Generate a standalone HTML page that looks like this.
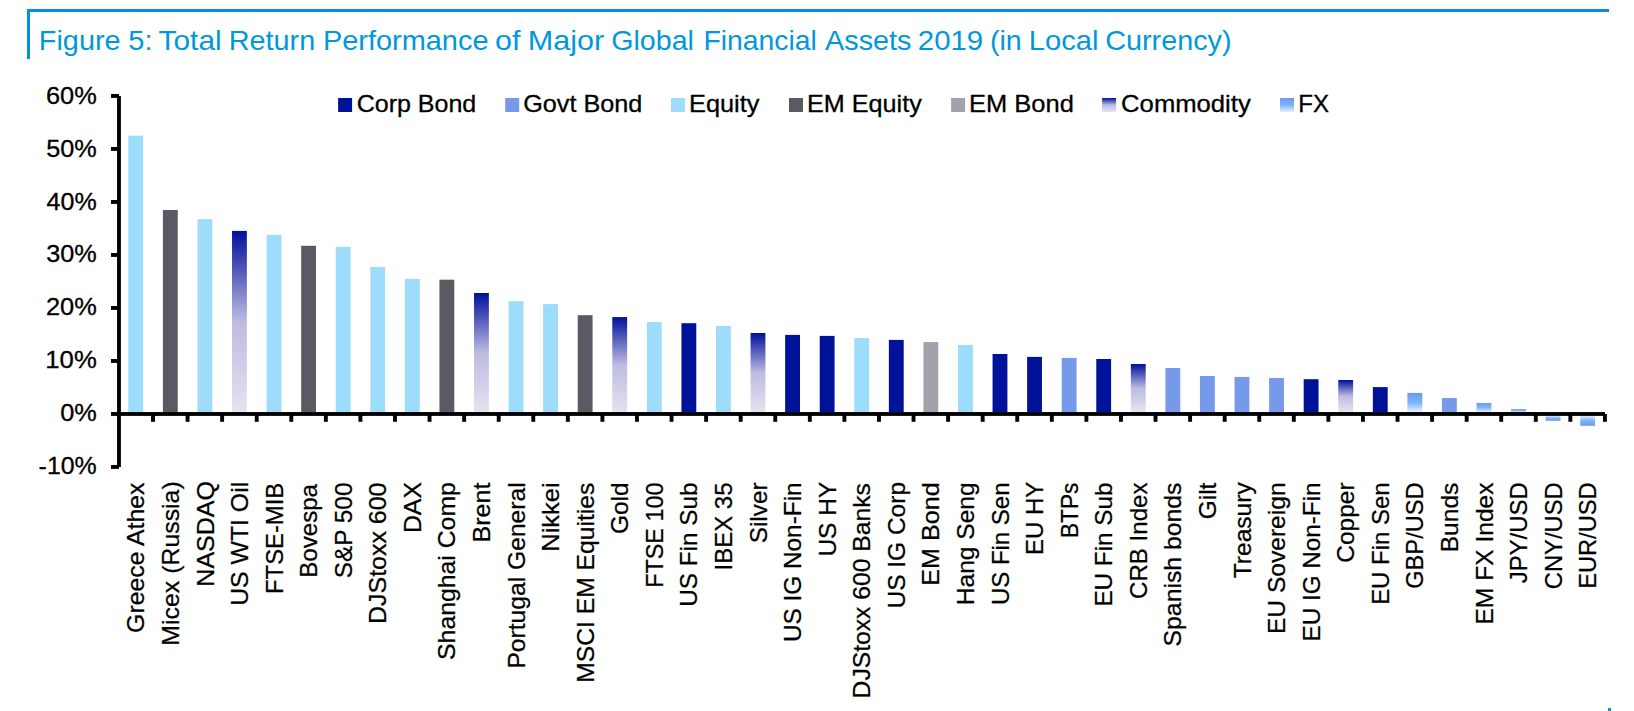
<!DOCTYPE html>
<html lang="en"><head><meta charset="utf-8"><title>Figure 5: Total Return Performance of Major Global Financial Assets 2019</title>
<style>
html,body{margin:0;padding:0;background:#fff;}
body{width:1634px;height:711px;overflow:hidden;}
svg{display:block;}
text{font-family:"Liberation Sans",sans-serif;}
</style></head><body>
<svg width="1634" height="711" viewBox="0 0 1634 711">
<defs>
<linearGradient id="gc" x1="0" y1="0" x2="0" y2="1"><stop offset="0" stop-color="#000F9B"/><stop offset="0.5" stop-color="#BDBBE0"/><stop offset="1" stop-color="#E4E3F1"/></linearGradient>
<linearGradient id="gf" x1="0" y1="0" x2="0" y2="1"><stop offset="0" stop-color="#7396EA"/><stop offset="0.5" stop-color="#74B8FF"/><stop offset="1" stop-color="#F3ECF8"/></linearGradient>
<linearGradient id="gfn" x1="0" y1="1" x2="0" y2="0"><stop offset="0" stop-color="#7396EA"/><stop offset="0.5" stop-color="#74B8FF"/><stop offset="1" stop-color="#F3ECF8"/></linearGradient>
</defs>
<rect width="1634" height="711" fill="#fff"/>

<rect x="27" y="9" width="1582" height="3" fill="#0093DA"/>
<rect x="27" y="9" width="3" height="50" fill="#0093DA"/>
<rect x="1608" y="708" width="3" height="3" fill="#0093DA"/>
<text y="49.5" font-size="28.0" fill="#0098DC"><tspan x="38.82" textLength="81.77" lengthAdjust="spacingAndGlyphs">Figure</tspan> <tspan x="128.34" textLength="24.22" lengthAdjust="spacingAndGlyphs">5:</tspan> <tspan x="158.63" textLength="62.98" lengthAdjust="spacingAndGlyphs">Total</tspan> <tspan x="228.72" textLength="86.52" lengthAdjust="spacingAndGlyphs">Return</tspan> <tspan x="322.91" textLength="165.58" lengthAdjust="spacingAndGlyphs">Performance</tspan> <tspan x="495.11" textLength="25.36" lengthAdjust="spacingAndGlyphs">of</tspan> <tspan x="527.78" textLength="76.50" lengthAdjust="spacingAndGlyphs">Major</tspan> <tspan x="611.27" textLength="82.68" lengthAdjust="spacingAndGlyphs">Global</tspan> <tspan x="703.46" textLength="113.44" lengthAdjust="spacingAndGlyphs">Financial</tspan> <tspan x="825.13" textLength="86.31" lengthAdjust="spacingAndGlyphs">Assets</tspan> <tspan x="917.83" textLength="65.36" lengthAdjust="spacingAndGlyphs">2019</tspan> <tspan x="989.91" textLength="31.82" lengthAdjust="spacingAndGlyphs">(in</tspan> <tspan x="1028.69" textLength="69.91" lengthAdjust="spacingAndGlyphs">Local</tspan> <tspan x="1105.26" textLength="126.26" lengthAdjust="spacingAndGlyphs">Currency)</tspan></text>
<rect x="128.31" y="135.7" width="14.85" height="276.4" fill="#9DDCFA"/>
<rect x="162.89" y="210.0" width="14.85" height="202.1" fill="#5A5A65"/>
<rect x="197.46" y="219.2" width="14.85" height="192.9" fill="#9DDCFA"/>
<rect x="232.03" y="230.9" width="14.85" height="181.2" fill="url(#gc)"/>
<rect x="266.60" y="234.9" width="14.85" height="177.2" fill="#9DDCFA"/>
<rect x="301.17" y="245.8" width="14.85" height="166.3" fill="#5A5A65"/>
<rect x="335.74" y="246.8" width="14.85" height="165.3" fill="#9DDCFA"/>
<rect x="370.31" y="267.0" width="14.85" height="145.1" fill="#9DDCFA"/>
<rect x="404.88" y="278.9" width="14.85" height="133.2" fill="#9DDCFA"/>
<rect x="439.45" y="279.7" width="14.85" height="132.4" fill="#5A5A65"/>
<rect x="474.02" y="293.0" width="14.85" height="119.1" fill="url(#gc)"/>
<rect x="508.59" y="301.2" width="14.85" height="110.9" fill="#9DDCFA"/>
<rect x="543.16" y="304.1" width="14.85" height="108.0" fill="#9DDCFA"/>
<rect x="577.73" y="315.2" width="14.85" height="96.9" fill="#5A5A65"/>
<rect x="612.29" y="317.1" width="14.85" height="95.0" fill="url(#gc)"/>
<rect x="646.87" y="322.1" width="14.85" height="90.0" fill="#9DDCFA"/>
<rect x="681.44" y="323.2" width="14.85" height="88.9" fill="#00129A"/>
<rect x="716.00" y="325.9" width="14.85" height="86.2" fill="#9DDCFA"/>
<rect x="750.57" y="333.0" width="14.85" height="79.1" fill="url(#gc)"/>
<rect x="785.15" y="334.9" width="14.85" height="77.2" fill="#00129A"/>
<rect x="819.72" y="335.9" width="14.85" height="76.2" fill="#00129A"/>
<rect x="854.28" y="338.1" width="14.85" height="74.0" fill="#9DDCFA"/>
<rect x="888.86" y="339.9" width="14.85" height="72.2" fill="#00129A"/>
<rect x="923.43" y="342.0" width="14.85" height="70.1" fill="#A2A2AC"/>
<rect x="958.00" y="344.9" width="14.85" height="67.2" fill="#9DDCFA"/>
<rect x="992.56" y="354.0" width="14.85" height="58.1" fill="#00129A"/>
<rect x="1027.13" y="356.9" width="14.85" height="55.2" fill="#00129A"/>
<rect x="1061.70" y="357.9" width="14.85" height="54.2" fill="#7799EA"/>
<rect x="1096.27" y="359.0" width="14.85" height="53.1" fill="#00129A"/>
<rect x="1130.85" y="364.0" width="14.85" height="48.1" fill="url(#gc)"/>
<rect x="1165.41" y="368.0" width="14.85" height="44.1" fill="#7799EA"/>
<rect x="1199.98" y="376.0" width="14.85" height="36.1" fill="#7799EA"/>
<rect x="1234.56" y="376.9" width="14.85" height="35.2" fill="#7799EA"/>
<rect x="1269.12" y="378.0" width="14.85" height="34.1" fill="#7799EA"/>
<rect x="1303.69" y="379.2" width="14.85" height="32.9" fill="#00129A"/>
<rect x="1338.26" y="380.0" width="14.85" height="32.1" fill="url(#gc)"/>
<rect x="1372.84" y="387.1" width="14.85" height="25.0" fill="#00129A"/>
<rect x="1407.40" y="392.9" width="14.85" height="19.2" fill="url(#gf)"/>
<rect x="1441.97" y="398.0" width="14.85" height="14.1" fill="#7799EA"/>
<rect x="1476.55" y="403.0" width="14.85" height="9.1" fill="url(#gf)"/>
<rect x="1511.12" y="409.1" width="14.85" height="3.0" fill="url(#gf)"/>
<rect x="1545.68" y="415.5" width="14.85" height="5.3" fill="url(#gfn)"/>
<rect x="1580.25" y="415.5" width="14.85" height="10.3" fill="url(#gfn)"/>
<g fill="#000">
<rect x="117.05" y="96" width="3.85" height="371"/>
<rect x="111" y="412.05" width="1494" height="3.85"/>
<rect x="111" y="94.00" width="8" height="3.9"/>
<rect x="111" y="147.00" width="8" height="3.9"/>
<rect x="111" y="200.00" width="8" height="3.9"/>
<rect x="111" y="253.00" width="8" height="3.9"/>
<rect x="111" y="306.00" width="8" height="3.9"/>
<rect x="111" y="359.00" width="8" height="3.9"/>
<rect x="111" y="465.00" width="8" height="3.9"/>
<rect x="151.05" y="414" width="3.9" height="7.8"/>
<rect x="185.62" y="414" width="3.9" height="7.8"/>
<rect x="220.19" y="414" width="3.9" height="7.8"/>
<rect x="254.76" y="414" width="3.9" height="7.8"/>
<rect x="289.33" y="414" width="3.9" height="7.8"/>
<rect x="323.90" y="414" width="3.9" height="7.8"/>
<rect x="358.47" y="414" width="3.9" height="7.8"/>
<rect x="393.04" y="414" width="3.9" height="7.8"/>
<rect x="427.61" y="414" width="3.9" height="7.8"/>
<rect x="462.18" y="414" width="3.9" height="7.8"/>
<rect x="496.75" y="414" width="3.9" height="7.8"/>
<rect x="531.32" y="414" width="3.9" height="7.8"/>
<rect x="565.89" y="414" width="3.9" height="7.8"/>
<rect x="600.46" y="414" width="3.9" height="7.8"/>
<rect x="635.03" y="414" width="3.9" height="7.8"/>
<rect x="669.60" y="414" width="3.9" height="7.8"/>
<rect x="704.17" y="414" width="3.9" height="7.8"/>
<rect x="738.74" y="414" width="3.9" height="7.8"/>
<rect x="773.31" y="414" width="3.9" height="7.8"/>
<rect x="807.88" y="414" width="3.9" height="7.8"/>
<rect x="842.45" y="414" width="3.9" height="7.8"/>
<rect x="877.02" y="414" width="3.9" height="7.8"/>
<rect x="911.59" y="414" width="3.9" height="7.8"/>
<rect x="946.16" y="414" width="3.9" height="7.8"/>
<rect x="980.73" y="414" width="3.9" height="7.8"/>
<rect x="1015.30" y="414" width="3.9" height="7.8"/>
<rect x="1049.87" y="414" width="3.9" height="7.8"/>
<rect x="1084.44" y="414" width="3.9" height="7.8"/>
<rect x="1119.01" y="414" width="3.9" height="7.8"/>
<rect x="1153.58" y="414" width="3.9" height="7.8"/>
<rect x="1188.15" y="414" width="3.9" height="7.8"/>
<rect x="1222.72" y="414" width="3.9" height="7.8"/>
<rect x="1257.29" y="414" width="3.9" height="7.8"/>
<rect x="1291.86" y="414" width="3.9" height="7.8"/>
<rect x="1326.43" y="414" width="3.9" height="7.8"/>
<rect x="1361.00" y="414" width="3.9" height="7.8"/>
<rect x="1395.57" y="414" width="3.9" height="7.8"/>
<rect x="1430.14" y="414" width="3.9" height="7.8"/>
<rect x="1464.71" y="414" width="3.9" height="7.8"/>
<rect x="1499.28" y="414" width="3.9" height="7.8"/>
<rect x="1533.85" y="414" width="3.9" height="7.8"/>
<rect x="1568.42" y="414" width="3.9" height="7.8"/>
<rect x="1602.99" y="414" width="3.9" height="7.8"/>
</g>
<text x="45.93" y="103.8" font-size="24.3" stroke="#000" stroke-width="0.3" textLength="50.83" lengthAdjust="spacingAndGlyphs">60%</text>
<text x="46.19" y="156.7" font-size="24.3" stroke="#000" stroke-width="0.3" textLength="50.57" lengthAdjust="spacingAndGlyphs">50%</text>
<text x="46.64" y="209.5" font-size="24.3" stroke="#000" stroke-width="0.3" textLength="50.12" lengthAdjust="spacingAndGlyphs">40%</text>
<text x="46.25" y="262.4" font-size="24.3" stroke="#000" stroke-width="0.3" textLength="50.50" lengthAdjust="spacingAndGlyphs">30%</text>
<text x="45.93" y="315.2" font-size="24.3" stroke="#000" stroke-width="0.3" textLength="50.83" lengthAdjust="spacingAndGlyphs">20%</text>
<text x="45.27" y="368.1" font-size="24.3" stroke="#000" stroke-width="0.3" textLength="51.51" lengthAdjust="spacingAndGlyphs">10%</text>
<text x="60.19" y="420.9" font-size="24.3" stroke="#000" stroke-width="0.3" textLength="36.61" lengthAdjust="spacingAndGlyphs">0%</text>
<text x="38.58" y="473.8" font-size="24.3" stroke="#000" stroke-width="0.3" textLength="58.18" lengthAdjust="spacingAndGlyphs">-10%</text>
<rect x="338.1" y="98" width="14" height="14" fill="#00129A"/>
<text x="356.65" y="111.6" font-size="24" stroke="#000" stroke-width="0.3" textLength="119.64" lengthAdjust="spacingAndGlyphs">Corp Bond</text>
<rect x="505.2" y="98" width="14" height="14" fill="#7799EA"/>
<text x="523.24" y="111.6" font-size="24" stroke="#000" stroke-width="0.3" textLength="119.04" lengthAdjust="spacingAndGlyphs">Govt Bond</text>
<rect x="671.0" y="98" width="14" height="14" fill="#9DDCFA"/>
<text x="689.01" y="111.6" font-size="24" stroke="#000" stroke-width="0.3" textLength="70.44" lengthAdjust="spacingAndGlyphs">Equity</text>
<rect x="789.0" y="98" width="14" height="14" fill="#5A5A65"/>
<text x="807.02" y="111.6" font-size="24" stroke="#000" stroke-width="0.3" textLength="114.73" lengthAdjust="spacingAndGlyphs">EM Equity</text>
<rect x="951.1" y="98" width="14" height="14" fill="#A2A2AC"/>
<text x="969.00" y="111.6" font-size="24" stroke="#000" stroke-width="0.3" textLength="104.82" lengthAdjust="spacingAndGlyphs">EM Bond</text>
<rect x="1102.1" y="98" width="14" height="14" fill="url(#gc)"/>
<text x="1121.12" y="111.6" font-size="24" stroke="#000" stroke-width="0.3" textLength="129.63" lengthAdjust="spacingAndGlyphs">Commodity</text>
<rect x="1280.0" y="98" width="14" height="14" fill="url(#gf)"/>
<text x="1298.32" y="111.6" font-size="24" stroke="#000" stroke-width="0.3" textLength="30.73" lengthAdjust="spacingAndGlyphs">FX</text>
<text transform="translate(144.3,631.7) rotate(-90)" x="-1.24" font-size="23.8" stroke="#000" stroke-width="0.25" textLength="150.43" lengthAdjust="spacingAndGlyphs">Greece Athex</text>
<text transform="translate(178.9,643.6) rotate(-90)" x="-2.05" font-size="23.8" stroke="#000" stroke-width="0.25" textLength="164.33" lengthAdjust="spacingAndGlyphs">Micex (Russia)</text>
<text transform="translate(213.5,584.6) rotate(-90)" x="-2.06" font-size="23.8" stroke="#000" stroke-width="0.25" textLength="105.57" lengthAdjust="spacingAndGlyphs">NASDAQ</text>
<text transform="translate(248.0,603.9) rotate(-90)" x="-1.92" font-size="23.8" stroke="#000" stroke-width="0.25" textLength="123.99" lengthAdjust="spacingAndGlyphs">US WTI Oil</text>
<text transform="translate(282.6,592.0) rotate(-90)" x="-1.97" font-size="23.8" stroke="#000" stroke-width="0.25" textLength="111.19" lengthAdjust="spacingAndGlyphs">FTSE-MIB</text>
<text transform="translate(317.2,575.8) rotate(-90)" x="-1.99" font-size="23.8" stroke="#000" stroke-width="0.25" textLength="93.77" lengthAdjust="spacingAndGlyphs">Bovespa</text>
<text transform="translate(351.7,577.1) rotate(-90)" x="-1.10" font-size="23.8" stroke="#000" stroke-width="0.25" textLength="95.65" lengthAdjust="spacingAndGlyphs">S&amp;P 500</text>
<text transform="translate(386.3,621.9) rotate(-90)" x="-2.06" font-size="23.8" stroke="#000" stroke-width="0.25" textLength="141.45" lengthAdjust="spacingAndGlyphs">DJStoxx 600</text>
<text transform="translate(420.9,531.0) rotate(-90)" x="-2.05" font-size="23.8" stroke="#000" stroke-width="0.25" textLength="50.97" lengthAdjust="spacingAndGlyphs">DAX</text>
<text transform="translate(455.4,658.8) rotate(-90)" x="-1.12" font-size="23.8" stroke="#000" stroke-width="0.25" textLength="177.75" lengthAdjust="spacingAndGlyphs">Shanghai Comp</text>
<text transform="translate(490.0,540.5) rotate(-90)" x="-2.07" font-size="23.8" stroke="#000" stroke-width="0.25" textLength="59.96" lengthAdjust="spacingAndGlyphs">Brent</text>
<text transform="translate(524.6,666.6) rotate(-90)" x="-2.03" font-size="23.8" stroke="#000" stroke-width="0.25" textLength="186.30" lengthAdjust="spacingAndGlyphs">Portugal General</text>
<text transform="translate(559.2,549.7) rotate(-90)" x="-2.11" font-size="23.8" stroke="#000" stroke-width="0.25" textLength="69.54" lengthAdjust="spacingAndGlyphs">Nikkei</text>
<text transform="translate(593.7,680.8) rotate(-90)" x="-2.04" font-size="23.8" stroke="#000" stroke-width="0.25" textLength="200.22" lengthAdjust="spacingAndGlyphs">MSCI EM Equities</text>
<text transform="translate(628.3,532.7) rotate(-90)" x="-1.22" font-size="23.8" stroke="#000" stroke-width="0.25" textLength="51.50" lengthAdjust="spacingAndGlyphs">Gold</text>
<text transform="translate(662.9,585.9) rotate(-90)" x="-1.93" font-size="23.8" stroke="#000" stroke-width="0.25" textLength="105.25" lengthAdjust="spacingAndGlyphs">FTSE 100</text>
<text transform="translate(697.4,604.9) rotate(-90)" x="-1.88" font-size="23.8" stroke="#000" stroke-width="0.25" textLength="124.28" lengthAdjust="spacingAndGlyphs">US Fin Sub</text>
<text transform="translate(732.0,568.3) rotate(-90)" x="-2.22" font-size="23.8" stroke="#000" stroke-width="0.25" textLength="88.02" lengthAdjust="spacingAndGlyphs">IBEX 35</text>
<text transform="translate(766.6,542.2) rotate(-90)" x="-1.10" font-size="23.8" stroke="#000" stroke-width="0.25" textLength="60.87" lengthAdjust="spacingAndGlyphs">Silver</text>
<text transform="translate(801.1,640.2) rotate(-90)" x="-1.89" font-size="23.8" stroke="#000" stroke-width="0.25" textLength="159.67" lengthAdjust="spacingAndGlyphs">US IG Non-Fin</text>
<text transform="translate(835.7,554.7) rotate(-90)" x="-1.90" font-size="23.8" stroke="#000" stroke-width="0.25" textLength="74.82" lengthAdjust="spacingAndGlyphs">US HY</text>
<text transform="translate(870.3,696.4) rotate(-90)" x="-2.04" font-size="23.8" stroke="#000" stroke-width="0.25" textLength="215.28" lengthAdjust="spacingAndGlyphs">DJStoxx 600 Banks</text>
<text transform="translate(904.9,606.6) rotate(-90)" x="-1.90" font-size="23.8" stroke="#000" stroke-width="0.25" textLength="126.49" lengthAdjust="spacingAndGlyphs">US IG Corp</text>
<text transform="translate(939.4,583.6) rotate(-90)" x="-2.07" font-size="23.8" stroke="#000" stroke-width="0.25" textLength="103.26" lengthAdjust="spacingAndGlyphs">EM Bond</text>
<text transform="translate(974.0,603.2) rotate(-90)" x="-2.02" font-size="23.8" stroke="#000" stroke-width="0.25" textLength="122.80" lengthAdjust="spacingAndGlyphs">Hang Seng</text>
<text transform="translate(1008.6,603.2) rotate(-90)" x="-1.86" font-size="23.8" stroke="#000" stroke-width="0.25" textLength="122.58" lengthAdjust="spacingAndGlyphs">US Fin Sen</text>
<text transform="translate(1043.1,553.1) rotate(-90)" x="-1.98" font-size="23.8" stroke="#000" stroke-width="0.25" textLength="73.29" lengthAdjust="spacingAndGlyphs">EU HY</text>
<text transform="translate(1077.7,536.1) rotate(-90)" x="-1.86" font-size="23.8" stroke="#000" stroke-width="0.25" textLength="55.25" lengthAdjust="spacingAndGlyphs">BTPs</text>
<text transform="translate(1112.3,604.6) rotate(-90)" x="-2.00" font-size="23.8" stroke="#000" stroke-width="0.25" textLength="124.10" lengthAdjust="spacingAndGlyphs">EU Fin Sub</text>
<text transform="translate(1146.8,597.8) rotate(-90)" x="-1.20" font-size="23.8" stroke="#000" stroke-width="0.25" textLength="116.52" lengthAdjust="spacingAndGlyphs">CRB Index</text>
<text transform="translate(1181.4,645.3) rotate(-90)" x="-1.11" font-size="23.8" stroke="#000" stroke-width="0.25" textLength="163.75" lengthAdjust="spacingAndGlyphs">Spanish bonds</text>
<text transform="translate(1216.0,518.1) rotate(-90)" x="-1.22" font-size="23.8" stroke="#000" stroke-width="0.25" textLength="36.71" lengthAdjust="spacingAndGlyphs">Gilt</text>
<text transform="translate(1250.6,577.8) rotate(-90)" x="-0.55" font-size="23.8" stroke="#000" stroke-width="0.25" textLength="96.13" lengthAdjust="spacingAndGlyphs">Treasury</text>
<text transform="translate(1285.1,632.0) rotate(-90)" x="-2.03" font-size="23.8" stroke="#000" stroke-width="0.25" textLength="151.56" lengthAdjust="spacingAndGlyphs">EU Sovereign</text>
<text transform="translate(1319.7,639.5) rotate(-90)" x="-2.00" font-size="23.8" stroke="#000" stroke-width="0.25" textLength="159.07" lengthAdjust="spacingAndGlyphs">EU IG Non-Fin</text>
<text transform="translate(1354.3,561.5) rotate(-90)" x="-1.22" font-size="23.8" stroke="#000" stroke-width="0.25" textLength="80.29" lengthAdjust="spacingAndGlyphs">Copper</text>
<text transform="translate(1388.8,602.9) rotate(-90)" x="-1.97" font-size="23.8" stroke="#000" stroke-width="0.25" textLength="122.39" lengthAdjust="spacingAndGlyphs">EU Fin Sen</text>
<text transform="translate(1423.4,587.6) rotate(-90)" x="-1.18" font-size="23.8" stroke="#000" stroke-width="0.25" textLength="106.37" lengthAdjust="spacingAndGlyphs">GBP/USD</text>
<text transform="translate(1458.0,550.3) rotate(-90)" x="-2.03" font-size="23.8" stroke="#000" stroke-width="0.25" textLength="69.70" lengthAdjust="spacingAndGlyphs">Bunds</text>
<text transform="translate(1492.5,622.5) rotate(-90)" x="-2.03" font-size="23.8" stroke="#000" stroke-width="0.25" textLength="142.03" lengthAdjust="spacingAndGlyphs">EM FX Index</text>
<text transform="translate(1527.1,582.9) rotate(-90)" x="-0.36" font-size="23.8" stroke="#000" stroke-width="0.25" textLength="100.91" lengthAdjust="spacingAndGlyphs">JPY/USD</text>
<text transform="translate(1561.7,588.0) rotate(-90)" x="-1.19" font-size="23.8" stroke="#000" stroke-width="0.25" textLength="106.83" lengthAdjust="spacingAndGlyphs">CNY/USD</text>
<text transform="translate(1596.3,586.9) rotate(-90)" x="-1.95" font-size="23.8" stroke="#000" stroke-width="0.25" textLength="106.49" lengthAdjust="spacingAndGlyphs">EUR/USD</text>
</svg>
</body></html>
